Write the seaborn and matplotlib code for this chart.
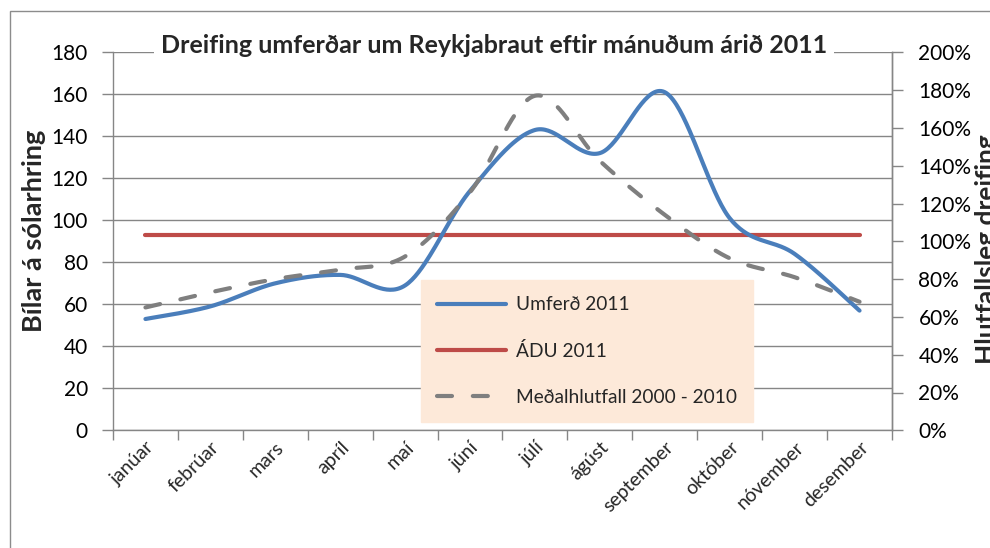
import numpy as np
import pandas as pd
import matplotlib
matplotlib.use("Agg")
import matplotlib.pyplot as plt
import seaborn as sns
from matplotlib.lines import Line2D
from matplotlib.patches import Rectangle
from matplotlib.ticker import FixedLocator, FuncFormatter

# ---------------- data ----------------
months = ['janúar', 'febrúar', 'mars', 'apríl', 'maí', 'júní', 'júlí',
          'ágúst', 'september', 'október', 'nóvember', 'desember']
umferd_2011 = [53, 59, 70, 74, 69, 114, 143, 132, 161, 101, 84, 57]
adu_2011 = [93] * 12
medalhlutfall = [65, 73, 80, 85, 92, 126, 177, 142.5, 114, 91, 81, 68]  # percent

title = 'Dreifing umferðar um Reykjabraut eftir mánuðum árið 2011'
ylabel_left = 'Bílar á sólarhring'
ylabel_right = 'Hlutfallsleg dreifing'
labels = ['Umferð 2011', 'ÁDU 2011', 'Meðalhlutfall 2000 - 2010']

# ---------------- style ----------------
sns.set_theme(style='white')
plt.rcParams['font.family'] = ['Lato', 'DejaVu Sans']

BLUE = '#4A7EBB'
RED = '#BE4B48'
GREY = '#7F7F7F'
GRID = '#868686'


def smooth(y, n=40):
    """Excel-like smoothed line (Catmull-Rom / Bezier through the points)."""
    y = np.asarray(y, dtype=float)
    x = np.arange(len(y), dtype=float)
    P = np.column_stack([x, y])
    Pp = np.vstack([P[0], P, P[-1]])
    out = []
    t = np.linspace(0, 1, n)[:, None]
    for i in range(len(P) - 1):
        p0, p1, p2, p3 = Pp[i], Pp[i + 1], Pp[i + 2], Pp[i + 3]
        c1 = p1 + (p2 - p0) / 6.0
        c2 = p2 - (p3 - p1) / 6.0
        seg = ((1 - t) ** 3) * p1 + 3 * ((1 - t) ** 2) * t * c1 + 3 * (1 - t) * t ** 2 * c2 + t ** 3 * p2
        out.append(seg if i == 0 else seg[1:])
    out = np.vstack(out)
    return out[:, 0], out[:, 1]


W, H = 990, 548
fig = plt.figure(figsize=(W / 100, H / 100), dpi=100)
fig.patch.set_facecolor('white')

x0, x1 = 113, 892
ytop, ybot = 52.3, 430.3
ax = fig.add_axes([x0 / W, 1 - ybot / H, (x1 - x0) / W, (ybot - ytop) / H])
ax2 = ax.twinx()

# outer chart border
fig.patches.append(Rectangle((10 / W, -0.05), 1.2, 1 - 11 / H + 0.05,
                             transform=fig.transFigure, fill=False,
                             edgecolor='#8C8C8C', lw=1.0, zorder=0))

# ---------------- left axis ----------------
ax.set_xlim(-0.5, 11.5)
ax.set_ylim(0, 180)
ax.set_yticks(np.arange(0, 181, 20))
ax.yaxis.grid(True, color=GRID, lw=1.0)
ax.set_axisbelow(True)
ax.tick_params(axis='y', which='major', direction='out', length=8, width=1.0,
               color=GRID, pad=10, labelsize=15, labelcolor='black', left=True)

ax.set_xticks(np.arange(12))
ax.set_xticklabels(months, rotation=45, ha='right', rotation_mode='anchor',
                   fontsize=14)
ax.xaxis.set_minor_locator(FixedLocator(np.arange(-0.5, 12, 1)))
ax.tick_params(axis='x', which='major', length=0, pad=6)
ax.tick_params(axis='x', which='minor', direction='out', length=7, width=1.0,
               color=GRID, bottom=True)

for s in ['top']:
    ax.spines[s].set_visible(False)
    ax2.spines[s].set_visible(False)
for s in ['left', 'bottom', 'right']:
    ax.spines[s].set_color(GRID)
    ax.spines[s].set_linewidth(1.0)
ax2.spines['right'].set_color(GRID)
ax2.spines['right'].set_linewidth(1.0)
ax2.spines['left'].set_visible(False)
ax2.spines['bottom'].set_visible(False)

# data lines
xs, ys = smooth(umferd_2011)
df_u = pd.DataFrame({'x': xs, 'y': ys})
sns.lineplot(data=df_u, x='x', y='y', ax=ax, color=BLUE, lw=3.0,
             solid_capstyle='round', sort=False, estimator=None, zorder=4)

df_a = pd.DataFrame({'x': np.arange(12), 'y': adu_2011})
sns.lineplot(data=df_a, x='x', y='y', ax=ax, color=RED, lw=3.0,
             solid_capstyle='round', estimator=None, zorder=3)

ax.set_xlabel('')
ax.set_ylabel('')

# ---------------- right axis ----------------
ax2.set_ylim(0, 200)
ax2.set_yticks(np.arange(0, 201, 20))
ax2.yaxis.set_major_formatter(FuncFormatter(lambda v, p: f'{int(round(v))}%'))
ax2.tick_params(axis='y', direction='out', length=8, width=1.0, color=GRID,
                pad=11, labelsize=15, labelcolor='black', right=True)
ax2.grid(False)

xs2, ys2 = smooth(medalhlutfall)
df_m = pd.DataFrame({'x': xs2, 'y': ys2})
sns.lineplot(data=df_m, x='x', y='y', ax=ax2, color=GREY, lw=3.0,
             sort=False, estimator=None, zorder=4)
ln = ax2.get_lines()[-1]
ln.set_dashes((3.6, 5.0))
ln.set_dash_capstyle('round')
ax2.set_xlabel('')
ax2.set_ylabel('')
ax2.set_xlim(-0.5, 11.5)

# axis titles
fig.text(34 / W, 1 - 231 / H, ylabel_left, rotation=90, fontsize=19.5,
         fontweight='bold', ha='center', va='center')
fig.text(987 / W, 1 - 249 / H, ylabel_right, rotation=90, fontsize=19,
         fontweight='bold', ha='center', va='center')

# ---------------- title ----------------
fig.text(494 / W, 1 - 53 / H, title, fontsize=18, fontweight='bold',
         ha='center', va='baseline', zorder=10,
         bbox=dict(facecolor='white', edgecolor='none', pad=5))

# ---------------- legend ----------------
handles = [
    Line2D([], [], color=BLUE, lw=3.0, solid_capstyle='round'),
    Line2D([], [], color=RED, lw=3.0, solid_capstyle='round'),
    Line2D([], [], color=GREY, lw=3.0, dashes=(3.6, 5.0), dash_capstyle='round'),
]
leg = ax2.legend(handles, labels, loc='upper left',
                 bbox_to_anchor=(421 / W, 1 - 280 / H),
                 bbox_transform=fig.transFigure, borderaxespad=0,
                 frameon=True, fancybox=False, framealpha=1,
                 facecolor='#FDE9D9', edgecolor='#FDE9D9',
                 fontsize=13.8, handlelength=3.6, handletextpad=0.5,
                 labelspacing=1.5, borderpad=0.85)
leg.set_zorder(20)

fig.savefig('out.png', dpi=100, facecolor='white')
